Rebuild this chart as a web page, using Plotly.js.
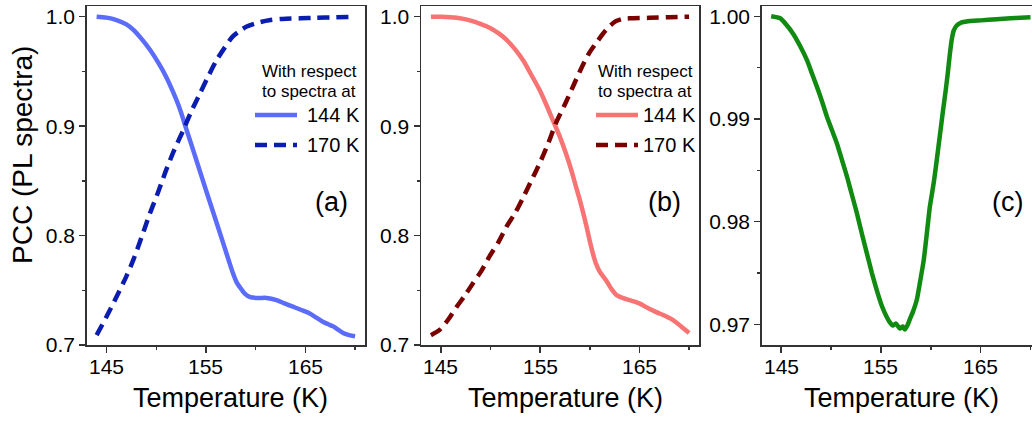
<!DOCTYPE html>
<html>
<head>
<meta charset="utf-8">
<script src="https://cdn.plot.ly/plotly-3.0.1.min.js"></script>
<style>html,body{margin:0;padding:0;background:#fff;}#chart{width:1032px;height:422px;}</style>
</head>
<body>
<div id="chart"></div>
<script>
// ---------- data ----------
const a144T = [144,145,146,147,147.7,148.5,149.35,150.2,151,151.7,152.4,153,153.5,154.1,154.7,155.7,156.7,157.3,157.7,158.1,158.4,158.9,159.4,160.2,161.1,162.1,162.9,163.75,164.6,165.4,166.1,166.8,167.3,167.8,168.3,168.8,169.4,170];
const a144V = [1.000,0.9992,0.997,0.993,0.988,0.980,0.970,0.958,0.945,0.931,0.915,0.898,0.884,0.867,0.850,0.822,0.794,0.777,0.766,0.757,0.753,0.747,0.744,0.743,0.743,0.741,0.738,0.735,0.732,0.729,0.725,0.721,0.719,0.717,0.714,0.711,0.709,0.708];

const a170T = [144,145,146,147,147.7,148.5,149.35,150.2,151,151.8,152.7,153.5,154.4,155.2,156.05,156.9,157.7,158.4,159.1,160.4,161.5,162.7,164.5,166,168,170];
const a170V = [0.709,0.726,0.744,0.763,0.778,0.798,0.820,0.840,0.860,0.878,0.896,0.913,0.930,0.945,0.960,0.972,0.982,0.987,0.991,0.995,0.997,0.998,0.9985,0.999,0.9995,1.0];

const b144T = [144,145,146.6,148.2,149.1,149.9,150.8,151.6,152.5,153.3,154.1,154.95,155.6,156.3,157,157.6,158.1,158.6,159.1,159.6,160.0,160.3,160.6,161.0,161.65,162.2,162.65,163.3,164.0,165.0,165.8,166.7,167.5,168.35,169.2,170];
const b144V = [1.0,1.0,0.999,0.996,0.993,0.990,0.985,0.979,0.970,0.960,0.947,0.933,0.920,0.905,0.890,0.875,0.861,0.845,0.829,0.811,0.795,0.784,0.775,0.767,0.759,0.751,0.746,0.743,0.741,0.738,0.734,0.730,0.727,0.723,0.717,0.711];

const b170T = [144,144.9,145.8,146.6,147.4,148.2,149.1,149.9,150.8,151.6,152.5,153.3,154.1,154.95,155.8,156.6,157.5,158.3,159.1,159.95,160.8,161.65,162.2,162.65,163.3,164,166,168,170];
const b170V = [0.709,0.714,0.724,0.735,0.745,0.756,0.768,0.781,0.794,0.808,0.821,0.835,0.850,0.866,0.884,0.903,0.920,0.936,0.952,0.967,0.978,0.988,0.993,0.996,0.998,0.9985,0.999,0.9995,1.0];

const cT = [144,144.9,145.5,146.2,146.9,147.6,148.1,148.6,149.1,149.6,150.1,150.6,151.1,151.6,152.1,152.6,153.1,153.6,154.1,154.6,155.1,155.6,155.9,156.2,156.5,156.9,157.2,157.4,157.7,157.9,158.2,158.6,158.9,159.3,159.6,159.9,160.3,160.6,160.9,161.2,161.5,161.7,161.9,162.1,162.3,162.6,163.1,163.6,165,166.6,168,169,170];
const cV = [1.0,0.9998,0.9992,0.9983,0.9971,0.9957,0.9944,0.9931,0.9917,0.9902,0.9889,0.9876,0.9860,0.9844,0.9826,0.9808,0.9788,0.9769,0.9750,0.9733,0.9718,0.9707,0.9702,0.9699,0.9701,0.9696,0.9698,0.9695,0.9700,0.9705,0.9712,0.9724,0.9740,0.9763,0.9788,0.9814,0.9838,0.9860,0.9883,0.9906,0.9928,0.9944,0.9962,0.9977,0.9986,0.9991,0.9994,0.9995,0.9996,0.9997,0.9998,0.99985,0.9999];

const xTickVals = [145,155,165];
const xTickText = ['145','155','165'];
const xMinorVals = [150,160,170];
const yTickValsAB = [0.7,0.8,0.9,1.0];
const yTickTextAB = ['0.7','0.8','0.9','1.0'];
const yMinorAB = [0.75,0.85,0.95];
const yTickValsC = [0.97,0.98,0.99,1.0];
const yTickTextC = ['0.97','0.98','0.99','1.00'];
const yMinorC = [0.975,0.985,0.995];
const legendTitle = ['With respect','to spectra at'];
const legendNames = ['144 K','170 K'];
const panelLabels = ['(a)','(b)','(c)'];
const xTitle = 'Temperature (K)';
const yTitle = 'PCC (PL spectra)';

// ---------- style ----------
const W = 1032, H = 422, MT = 6, MB = 77;
const PH = H - MT - MB;
const FONT = 'Liberation Sans, Arial, Helvetica, sans-serif';
const AX = '#333333';
const px = x => x / W;
const py = y => (H - MB - y) / PH;

const colA1 = '#5b6cfb', colA2 = '#0a1db0';
const colB1 = '#f87373', colB2 = '#7a0000';
const colC = '#118a11';
const DASH = '12px,7px';
const LW = 4.5;

const traces = [
  {x:a144T, y:a144V, xaxis:'x', yaxis:'y', mode:'lines', line:{color:colA1, width:LW, shape:'spline', smoothing:0.8}},
  {x:a170T, y:a170V, xaxis:'x', yaxis:'y', mode:'lines', line:{color:colA2, width:LW, dash:DASH, shape:'spline', smoothing:0.8}},
  {x:b144T, y:b144V, xaxis:'x2', yaxis:'y2', mode:'lines', line:{color:colB1, width:LW, shape:'spline', smoothing:0.8}},
  {x:b170T, y:b170V, xaxis:'x2', yaxis:'y2', mode:'lines', line:{color:colB2, width:LW, dash:DASH, shape:'spline', smoothing:0.8}},
  {x:cT, y:cV, xaxis:'x3', yaxis:'y3', mode:'lines', line:{color:colC, width:LW, shape:'spline', smoothing:0.5}}
];

function xax(domain, range, anchor, mirror){
  return {domain:domain, range:range, anchor:anchor, tickmode:'array', tickvals:xTickVals, ticktext:xTickText,
    ticks:'outside', ticklen:6, tickwidth:1.5, tickcolor:AX, showline:true, linecolor:AX, linewidth:1.5,
    showticklabels:false,
    mirror:mirror, showgrid:false, zeroline:false, tickfont:{family:FONT, size:21, color:'#000'},
    minor:{tickmode:'array', tickvals:xMinorVals, ticks:'outside', ticklen:3, tickwidth:1.5, tickcolor:AX, showgrid:false}};
}
function yax(range, anchor, vals, text, minor, mirror){
  return {domain:[0,1], range:range, anchor:anchor, tickmode:'array', tickvals:vals, ticktext:text,
    ticks:'outside', ticklen:6, tickwidth:1.5, tickcolor:AX, showline:true, linecolor:AX, linewidth:1.5,
    mirror:mirror, showgrid:false, zeroline:false, tickfont:{family:FONT, size:21, color:'#000'},
    minor:{tickmode:'array', tickvals:minor, ticks:'outside', ticklen:3, tickwidth:1.5, tickcolor:AX, showgrid:false}};
}

const annotations = [];
const shapes = [];
function txt(x, y, text, size, xanchor, angle){
  annotations.push({xref:'paper', yref:'paper', x:px(x), y:py(y), text:text, showarrow:false,
    xanchor:xanchor||'center', yanchor:'middle', textangle:angle||0,
    font:{family:FONT, size:size, color:'#000'}});
}
// x tick labels placed on each x axis' own scale
['x','x2','x3'].forEach(ax => {
  xTickVals.forEach((v, i) => {
    annotations.push({xref:ax, yref:'paper', x:v, y:py(366), text:xTickText[i], showarrow:false,
      xanchor:'center', yanchor:'middle', font:{family:FONT, size:21, color:'#000'}});
  });
});
function legend(cx, x0, x1, tx, c1, c2){
  txt(cx, 71, legendTitle[0], 17);
  txt(cx, 91, legendTitle[1], 17);
  shapes.push({type:'line', xref:'paper', yref:'paper', x0:px(x0), x1:px(x1), y0:py(115), y1:py(115), line:{color:c1, width:LW}});
  shapes.push({type:'line', xref:'paper', yref:'paper', x0:px(x0), x1:px(x1), y0:py(145), y1:py(145), line:{color:c2, width:LW, dash:DASH}});
  txt(tx, 115, legendNames[0], 20, 'left');
  txt(tx, 145, legendNames[1], 20, 'left');
}
legend(309, 255, 297, 305, colA1, colA2);
legend(645, 596, 638, 641, colB1, colB2);
txt(331, 202, panelLabels[0], 27);
txt(664, 202, panelLabels[1], 27);
txt(1007, 202, panelLabels[2], 27);
txt(230, 398, xTitle, 27);
txt(565, 398, xTitle, 27);
txt(901, 398, xTitle, 27);
txt(22, 155, yTitle, 28, 'center', -90);

const layout = {
  width:W, height:H, margin:{l:0, r:0, t:MT, b:MB, pad:0},
  paper_bgcolor:'#fff', plot_bgcolor:'#fff', showlegend:false,
  xaxis: xax([px(86.7), px(365)], [143, 171], 'y', true),
  yaxis: yax([0.7, 1.0098], 'x', yTickValsAB, yTickTextAB, yMinorAB, true),
  xaxis2: xax([px(421), px(699)], [143, 171], 'y2', true),
  yaxis2: yax([0.7, 1.0098], 'x2', yTickValsAB, yTickTextAB, yMinorAB, true),
  xaxis3: xax([px(761.7), 1], [143.05, 170.15], 'y3', true),
  yaxis3: yax([0.968, 1.001], 'x3', yTickValsC, yTickTextC, yMinorC, false),
  annotations: annotations, shapes: shapes
};

Plotly.newPlot('chart', traces, layout, {staticPlot:true, displayModeBar:false});
</script>
</body>
</html>
